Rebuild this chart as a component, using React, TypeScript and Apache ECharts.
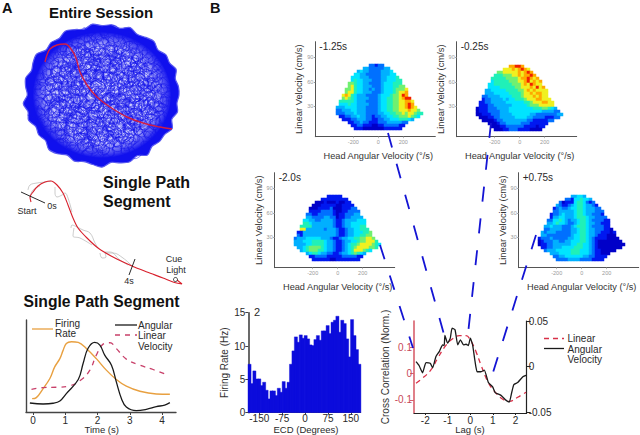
import React, { useEffect, useRef } from "react";
import * as echarts from "echarts";

const FONT = "Liberation Sans";

// Single path segment plot: [time (s), relative level]
const firingRate = [[-0.03,14.5],[0.1,15.6],[0.31,25.5],[0.52,36.4],[0.67,49],[0.83,58],[0.93,67],[1.03,74.5],[1.19,76.4],[1.4,75.6],[1.65,69],[1.96,58],[2.27,45.5],[2.58,35.3],[2.89,28],[3.31,22.5],[3.82,19.6],[4.24,19.3]];
const angularVelocity = [[-0.1,9.8],[0.31,8.7],[0.62,9.5],[0.83,12],[1.03,20],[1.4,35.3],[1.55,52.7],[1.7,69],[1.91,75.6],[2.07,72.7],[2.22,61.8],[2.43,50.9],[2.58,32.7],[2.74,14.5],[2.89,5.5],[3.2,1.5],[3.51,2.9],[3.82,5.8],[4.08,7.6],[4.24,10.2]];
const linearVelocity = [[-0.05,24.7],[0.31,26.5],[0.72,26.9],[1.14,28.4],[1.5,35.3],[1.76,45.5],[1.96,61.8],[2.17,73.8],[2.38,75.3],[2.58,69],[2.89,57.5],[3.31,50.9],[3.72,46.2],[4.13,40.7]];
const timeTicks = [0, 1, 2, 3, 4];

// ECD histogram
const ecdRates = [7.3,4.4,6.3,5.1,5.1,4.1,4.6,3.4,2.1,3.3,3.3,2.6,3.7,3.1,4.7,3.7,4.6,7.3,9.3,11.4,10.6,11.7,11.2,11.6,11.1,10.2,10.1,11,11.6,10.9,12.3,12.3,13.1,11.9,13.6,13.9,14.5,12.1,13.9,13.4,11.1,8.4,14,11.6,9.5,7.3];
const ecdStart = -182;
const ecdStep = 8;
const ecdTicks = [-150, -75, 0, 75, 150];
const rateTicks = [0, 5, 10, 15];

// Cross correlation: [lag (s), correlation]
const corrAngular = [[-2.41,0.0055],[-2.27,0.0011],[-2.12,-0.0066],[-1.97,0.0044],[-1.78,0.0037],[-1.67,-0.0011],[-1.53,0.011],[-1.38,0.0165],[-1.23,0.0239],[-1.16,0.0232],[-1.13,0.0342],[-1.01,0.0257],[-0.89,0.0313],[-0.81,0.0423],[-0.68,0.0404],[-0.56,0.0239],[-0.44,0.0294],[-0.3,0.0239],[-0.19,0.0246],[-0.09,0.0232],[0,0.0313],[0.1,0.0239],[0.21,0.0055],[0.3,-0.0055],[0.47,-0.0055],[0.62,-0.0037],[0.8,-0.0173],[0.99,-0.0221],[1.1,-0.0283],[1.36,-0.0313],[1.59,-0.0368],[1.73,-0.0386],[1.84,-0.0276],[1.93,-0.0195],[2.1,-0.0173],[2.33,-0.011],[2.5,-0.0092]];
const corrLinear = [[-2.41,-0.0367],[-2.12,-0.0177],[-1.75,0.0139],[-1.45,0.058],[-1.16,0.0987],[-0.86,0.128],[-0.49,0.144],[-0.19,0.144],[0,0.128],[0.25,0.0835],[0.47,0.033],[0.77,-0.03],[1.07,-0.068],[1.44,-0.0975],[1.73,-0.106],[2.1,-0.09],[2.47,-0.071]];
const lagTicks = [-2, -1, 0, 1, 2];
const corrLeftTicks = [-0.1, 0, 0.1];
const corrRightTicks = [-0.05, 0, 0.05];

// Rate maps, one character per cell, from the top row down (0 low .. 9 high)
const mapM125 = [
"...........22122",
".........332222233",
".......343322223334",
"......44332222233344",
".....4443332222334445",
".....45443332223344455",
"....665443322223444555",
"....6754433322234445566",
"...667544332322344456667",
"...677544333222344456778",
"..7875433322223444566798",
"..67654333322234455667899",
".5555543332222344556677887",
".4445443333222344556677898",
"333444433322223445566778987",
"2233344333222234455667778776",
"22233343332222334455667677655",
".112233433221223344556667654",
"..111223332211223344455543",
"....11223221112223333322",
".....112211100112222211",
"......1110000000111111",
];
const mapM025 = [
"...........88998",
".........777878987",
".......667777787898",
"......55566677878898",
".....5555566667889878",
".....45555566677897878",
"....445555556667879877",
"....4444555556677787978",
"...334444455556678787777",
"...333444445555677878877",
"..2233334444555677787877",
"..12233334344555677788777",
".1122333334444445567778877",
".1112233333344444566677777",
"011122233334444444455566543",
"0111222233344444444444333322",
"00111222333344444433222222233",
".000112233333444433222211122",
"..000012233333333221111122",
"....00012233333222111111",
".....000112222221111011",
"......0001122211110000",
];
const mapM200 = [
"...........11111",
".........111111111",
".......000100010011",
"......00011111001111",
".....0001111200011122",
".....11112222100112222",
"....221122222101122233",
"....3322223322011223333",
"...443322333321123333444",
"...554333333321123344444",
"..5555333333321123344455",
"..77333333233321123344555",
".1133333333333211233444556",
".2133333333333211233445566",
"233344444333211233445566776",
"3334445555433211233445667775",
"33334455554332112345567777654",
".334566665433211234567777665",
"..345666554332112345777654",
"....34554332211233456543",
".....112222111112222211",
"......1111110011111111",
];
const mapP075 = [
"...........33443",
".........221445443",
".......201114554212",
"......32112345543321",
".....1232234455433322",
".....22333334554333222",
"....122343334554332221",
"....1334433345554332222",
"...224454323345543222211",
"...334544322345543322111",
"..3343332223455543222211",
"..22333322233455433222110",
".3233322222334554332211101",
".3322222222344554332111000",
"122232222233445543211110000",
"0122233223344455432100000000",
"01122333333445544321000000000",
".112233344445554432100000000",
"..233344444555444321100000",
"....33344445554443211000",
".....223344444433221111",
"......2222333322221111",
];
const mapCols = Array.from({ length: 29 }, (_, i) => String(i));
const mapRows = Array.from({ length: 22 }, (_, i) => String(i));
const jet = ["#0000c8","#0018f0","#0070ff","#00b0ff","#00e4ff","#20f0b8","#70f070","#f0f020","#ffa800","#f02000"];
const panelXTicks = [-200, 0, 200];
const panelYTicks = [30, 60, 90];

// Trajectories, in page units
const sessionPath = [[45,62],[47,55],[50,49],[57,45],[65,44],[71,49],[76,58],[80,72],[87,85],[97,97],[110,107],[127,117],[143,123],[160,127],[172,129]];
const segmentPath = [[31,202],[30,197],[33,192],[38,186],[45,182],[51,181],[57,185],[63,193],[68,205],[73,218],[78,228],[87,238],[98,248],[113,257],[132,266],[147,272],[163,278],[173,282],[182,284],[177,280]];
const segmentGray = [
  [[28,190],[30,185],[37,183],[45,182],[51,181]],
  [[40,186],[33,190],[30,197]],
  [[55,187],[55,193],[57,197],[62,195],[65,193],[68,198],[72,212]],
  [[71,228],[72,225],[75,226],[83,230],[90,233],[95,243],[98,248]],
  [[74,228],[73,236],[80,238],[92,245]],
  [[100,253],[102,258],[106,257],[105,253],[113,253],[123,258],[132,266]],
  [[105,252],[110,252],[120,260],[128,265]],
];
const startTick = [[21,192],[45,203]];
const fourTick = [[135,259],[129,275]];

// Connectors from the rate maps to the correlation plot, in page units
const connectors = [
  [[388,133],[445,338]],
  [[380,245],[413,348]],
  [[491,123],[467,343]],
  [[536,235],[490,382]],
];

// Session scribble outline (relative radius round the arena) and one wander of the path
const arenaEdge = [1,0.98,1.01,0.97,1.03,0.99,1.0,0.98,1.04,0.98,1.02,1.0,0.97,1.03,1.0,0.98,1.01,0.97,1.02,1.04,0.98,1.0,0.97,1.02,0.99,1.03,0.97,1.0,1.02,0.98,1.01,1.03,0.97,1.0,0.98,1.03,1.0,0.97,1.02,0.99,1.01,0.98,1.03,0.98,1.0,1.02,0.97,1.01,0.99,1.03,0.98,1.0];
const wander = [[-0.9,0.1],[-0.5,0.45],[-0.1,0.2],[0.3,0.6],[0.7,0.2],[0.35,-0.2],[0.75,-0.55],[0.2,-0.7],[-0.15,-0.3],[-0.55,-0.6],[-0.8,-0.2],[-0.35,0.05],[0.05,-0.1],[0.5,0.05],[0.85,0.35]];

const parseMap = (rows: string[]) => {
  const out: number[][] = [];
  rows.forEach((row, r) => {
    row.split("").forEach((ch, c) => {
      if (ch !== ".") out.push([c, r, Number(ch)]);
    });
  });
  return out;
};

const INK = "#444";
const BLUE = "#1414d4";
const panels = [
  { name: "-1.25s", rows: mapM125, left: 315.3, top: 41.7, hx: 336, hy: 64 },
  { name: "-0.25s", rows: mapM025, left: 456.7, top: 41.7, hx: 476, hy: 65 },
  { name: "-2.0s", rows: mapM200, left: 274.7, top: 172.7, hx: 294, hy: 195 },
  { name: "+0.75s", rows: mapP075, left: 518.7, top: 172.7, hx: 538, hy: 195 },
];

const text = (x: number, y: number, t: string, size: number, extra: any = {}) => ({
  type: "text",
  x,
  y,
  z: 20,
  style: { text: t, fontSize: size, fontFamily: FONT, fill: "#2a2a2a", textVerticalAlign: "middle", ...extra },
});
const seg = (x1: number, y1: number, x2: number, y2: number, stroke: string, extra: any = {}) => ({
  type: "line",
  z: 20,
  shape: { x1, y1, x2, y2 },
  style: { stroke, lineWidth: 1.3, ...extra },
});

const buildArena = () => {
  const cx = 102, cy = 95, rx = 77, ry = 70;
  const edge = arenaEdge.map((k, i) => {
    const a = (i / arenaEdge.length) * Math.PI * 2;
    return [cx + rx * k * Math.cos(a), cy + ry * k * Math.sin(a)];
  });
  const items: any[] = [
    { type: "polygon", z: 1, shape: { points: edge, smooth: 0.3 }, style: { fill: "#1010ee", stroke: "#5a5af0", lineWidth: 1.2 } },
    {
      type: "ellipse",
      z: 2,
      shape: { cx, cy, rx: rx * 0.9, ry: ry * 0.9 },
      style: {
        fill: {
          type: "radial", x: 0.5, y: 0.5, r: 0.5,
          colorStops: [
            { offset: 0, color: "#d8d8ff" },
            { offset: 0.76, color: "#c4c4fc" },
            { offset: 1, color: "#1010ee" },
          ],
        },
      },
    },
  ];
  const total = 210;
  for (let n = 0; n < total; n++) {
    const a = n * 2.39996;
    const rad = Math.sqrt((n + 0.5) / total) * 0.8;
    const ox = cx + rx * rad * Math.cos(a);
    const oy = cy + ry * rad * Math.sin(a);
    const b = n * 1.1;
    const s = 13 + (n % 7);
    const pts = wander.map(([u, v]) => [
      ox + s * (u * Math.cos(b) - v * Math.sin(b)),
      oy + s * (u * Math.sin(b) + v * Math.cos(b)),
    ]);
    items.push({ type: "polyline", z: 3, shape: { points: pts, smooth: 0.5 }, style: { fill: "none", stroke: "#1414e8", lineWidth: 0.5 } });
  }
  return items;
};

const App = () => {
  const ref = useRef<HTMLDivElement | null>(null);
  useEffect(() => {
    document.body.style.margin = "0";
    const chart = echarts.init(ref.current!, undefined, { renderer: "svg" });

    const plain = { show: false };
    const grid: any[] = [
      { left: 0, top: 0, width: 640, height: 435 },
      { left: 26, top: 320, width: 150, height: 92 },
      { left: 248.3, top: 312.7, width: 112.3, height: 100 },
      { left: 414, top: 321, width: 112.7, height: 92 },
    ];
    const labelStyle = { fontFamily: FONT, color: "#2a2a2a", fontSize: 10 };
    const customTicks = (vals: number[], color = INK, len = 3) => ({ show: true, length: len, lineStyle: { color }, customValues: vals });
    const xAxis: any[] = [
      { gridIndex: 0, type: "value", min: 0, max: 640, ...plain },
      {
        gridIndex: 1, type: "value", min: -0.22, max: 4.43, splitLine: plain,
        axisLine: { onZero: false, lineStyle: { color: INK, width: 1.4 } },
        axisTick: customTicks(timeTicks),
        axisLabel: { ...labelStyle, margin: 3, customValues: timeTicks },
      },
      {
        gridIndex: 2, type: "value", min: -186, max: 182, splitLine: plain,
        axisLine: { onZero: false, lineStyle: { color: INK, width: 1.2 } },
        axisTick: customTicks(ecdTicks, INK, 2),
        axisLabel: { ...labelStyle, margin: 1, customValues: ecdTicks },
      },
      {
        gridIndex: 3, type: "value", min: -2.5, max: 2.5, splitLine: plain,
        axisLine: { onZero: false, lineStyle: { color: "#222", width: 1 } },
        axisTick: customTicks(lagTicks, "#222", 2),
        axisLabel: { ...labelStyle, margin: 2, customValues: lagTicks },
      },
    ];
    const yAxis: any[] = [
      { gridIndex: 0, type: "value", min: 0, max: 435, inverse: true, ...plain },
      {
        gridIndex: 1, type: "value", min: 0, max: 100, splitLine: plain,
        axisLine: { show: true, onZero: false, lineStyle: { color: INK, width: 1.4 } },
        axisTick: plain, axisLabel: plain,
      },
      {
        gridIndex: 2, type: "value", min: 0, max: 15, splitLine: plain,
        axisLine: { show: true, onZero: false, lineStyle: { color: INK, width: 1.6 } },
        axisTick: customTicks(rateTicks),
        axisLabel: { ...labelStyle, margin: 3, customValues: rateTicks },
        name: "Firing Rate (Hz)", nameLocation: "middle", nameGap: 19,
        nameTextStyle: { fontFamily: FONT, fontSize: 10, color: "#333" },
      },
      {
        gridIndex: 3, type: "value", min: -0.15, max: 0.2, position: "left", splitLine: plain,
        axisLine: { show: true, onZero: false, lineStyle: { color: "#d8606c", width: 1.6 } },
        axisTick: customTicks(corrLeftTicks, "#d8606c", 4),
        axisLabel: { ...labelStyle, color: "#c84858", margin: 2, customValues: corrLeftTicks, formatter: (v: number) => String(v) },
        name: "Cross Correlation (Norm.)", nameLocation: "middle", nameGap: 17,
        nameTextStyle: { fontFamily: FONT, fontSize: 10, color: "#333" },
      },
      {
        gridIndex: 3, type: "value", min: -0.0506, max: 0.05, position: "right", splitLine: plain,
        axisLine: { show: true, onZero: false, lineStyle: { color: "#222", width: 1.2 } },
        axisTick: { ...customTicks(corrRightTicks, "#222", 4), inside: false },
        axisLabel: { ...labelStyle, margin: 2, customValues: corrRightTicks, formatter: (v: number) => String(v) },
      },
    ];

    const series: any[] = [];
    const overlayLine = (data: number[][], color: string, width: number, extra: any = {}) => ({
      type: "line", xAxisIndex: 0, yAxisIndex: 0, data, showSymbol: false, symbol: "none", silent: true, z: 10,
      lineStyle: { color, width, ...extra.lineStyle }, smooth: extra.smooth ?? false,
    });
    segmentGray.forEach((p) => series.push(overlayLine(p, "#b4b4b4", 0.7, { smooth: 0.4 })));
    series.push(overlayLine(sessionPath, "#d01c44", 1.4, { smooth: 0.4 }));
    series.push(overlayLine(segmentPath, "#d8202c", 1.1, { smooth: 0.3 }));
    series.push(overlayLine(startTick, "#111", 0.9));
    series.push(overlayLine(fourTick, "#111", 0.9));
    connectors.forEach((c) => series.push(overlayLine(c, BLUE, 1.8, { lineStyle: { type: [15, 17] } })));

    const curve = (data: number[][], xi: number, yi: number, color: string, width: number, dash?: any, smooth: any = 0.4) => ({
      type: "line", xAxisIndex: xi, yAxisIndex: yi, data, symbol: "none", showSymbol: false, smooth, z: 5,
      lineStyle: { color, width, type: dash ?? "solid" },
    });
    series.push(curve(firingRate, 1, 1, "#e8a040", 1.4));
    series.push(curve(linearVelocity, 1, 1, "#c8406a", 1.3, [5, 5]));
    series.push(curve(angularVelocity, 1, 1, "#1a1a1a", 1.3));

    series.push({
      type: "bar", xAxisIndex: 2, yAxisIndex: 2, barWidth: 3.5, z: 5,
      data: ecdRates.map((v, i) => [ecdStart + ecdStep * i, v]),
      itemStyle: { color: "#0c0cdc", borderColor: "#0c0cdc", borderWidth: 0.4 },
    });

    series.push(curve(corrLinear, 3, 3, "#d83048", 1.3, [5, 4]));
    series.push(curve(corrAngular, 3, 4, "#1a1a1a", 1.3, undefined, 0.15));

    const heatIdx: number[] = [];
    const graphicText: any[] = [];
    panels.forEach((p) => {
      const gi = grid.length;
      grid.push({ left: p.left, top: p.top, width: 120, height: 95 });
      xAxis.push({
        gridIndex: gi, type: "value", min: -504, max: 456, splitLine: plain,
        axisLine: { onZero: false, lineStyle: { color: "#555", width: 1 } },
        axisTick: { ...customTicks(panelXTicks, "#bbb", 1.5) },
        axisLabel: { fontFamily: FONT, fontSize: 5.5, color: "#999", margin: 2, customValues: panelXTicks },
        name: "Head Angular Velocity (°/s)", nameLocation: "middle", nameGap: 15,
        nameTextStyle: { fontFamily: FONT, fontSize: 9.2, color: "#333", padding: [0, 0, 0, 6] },
      });
      yAxis.push({
        gridIndex: gi, type: "value", min: -7.2, max: 109, splitLine: plain,
        axisLine: { show: true, onZero: false, lineStyle: { color: "#555", width: 1 } },
        axisTick: { ...customTicks(panelYTicks, "#999", 1.5) },
        axisLabel: { fontFamily: FONT, fontSize: 5.5, color: "#999", margin: 2, customValues: panelYTicks },
        name: "Linear Velocity (cm/s)", nameLocation: "middle", nameGap: 11,
        nameTextStyle: { fontFamily: FONT, fontSize: 9.4, color: "#333" },
      });
      graphicText.push(text(p.left + 4, p.top + 4.5, p.name, 10));
    });
    panels.forEach((p) => {
      const gi = grid.length;
      grid.push({ left: p.hx, top: p.hy, width: 87, height: 66 });
      const xi = xAxis.length;
      const yi = yAxis.length;
      xAxis.push({ gridIndex: gi, type: "category", data: mapCols, show: false });
      yAxis.push({ gridIndex: gi, type: "category", data: mapRows, inverse: true, show: false });
      heatIdx.push(series.length);
      series.push({
        type: "heatmap", xAxisIndex: xi, yAxisIndex: yi, data: parseMap(p.rows), z: 4,
        progressive: 0, itemStyle: { borderWidth: 0 }, emphasis: { disabled: true },
      });
    });

    chart.setOption({
      animation: false,
      textStyle: { fontFamily: FONT },
      tooltip: { show: false },
      legend: { show: false },
      grid: grid.map((g) => ({ ...g, containLabel: false })),
      xAxis,
      yAxis,
      visualMap: { show: false, type: "continuous", seriesIndex: heatIdx, dimension: 2, min: 0, max: 9, inRange: { color: jet } },
      series,
      graphic: { elements: [
        ...buildArena(),
        text(2, 8, "A", 14.5, { fontWeight: "bold", fill: "#111" }),
        text(210, 8, "B", 14.5, { fontWeight: "bold", fill: "#111" }),
        text(101, 12.5, "Entire Session", 15, { fontWeight: "bold", textAlign: "center", fill: "#111" }),
        text(103, 182, "Single Path", 16, { fontWeight: "bold", fill: "#111" }),
        text(103, 201, "Segment", 16, { fontWeight: "bold", fill: "#111" }),
        text(101.5, 301, "Single Path Segment", 15.7, { fontWeight: "bold", textAlign: "center", fill: "#111" }),
        text(27, 210.5, "Start", 9, { textAlign: "center" }),
        text(52, 205.5, "0s", 9, { textAlign: "center" }),
        text(129, 281, "4s", 9, { textAlign: "center" }),
        text(174, 259, "Cue", 9, { textAlign: "center" }),
        text(176, 270, "Light", 9, { textAlign: "center" }),
        { type: "circle", z: 20, shape: { cx: 175.5, cy: 279.5, r: 2 }, style: { fill: "none", stroke: "#222", lineWidth: 0.9 } },
        text(55, 323, "Firing", 10),
        text(55, 333.7, "Rate", 10),
        seg(32, 329, 53, 329, "#e8a040"),
        seg(115, 325, 137, 325, "#1a1a1a"),
        seg(115, 335, 137, 335, "#c8406a", { lineDash: [5, 5] }),
        text(138, 325, "Angular", 10),
        text(138, 335.5, "Linear", 10),
        text(138, 346, "Velocity", 10),
        text(101.7, 429.5, "Time (s)", 9.5, { textAlign: "center" }),
        text(254, 312, "2", 11),
        text(306, 429.7, "ECD (Degrees)", 9.5, { textAlign: "center" }),
        text(470, 429.7, "Lag (s)", 9.5, { textAlign: "center" }),
        seg(544, 338.5, 564, 338.5, "#d83048", { lineDash: [5, 4] }),
        seg(544, 348.5, 564, 348.5, "#1a1a1a"),
        text(567.5, 338.5, "Linear", 10),
        text(567.5, 349, "Angular", 10),
        text(567.5, 359.5, "Velocity", 10),
        ...graphicText,
      ] },
    });
    return () => chart.dispose();
  }, []);
  return <div ref={ref} style={{ width: 640, height: 435 }} />;
};

export default App;
